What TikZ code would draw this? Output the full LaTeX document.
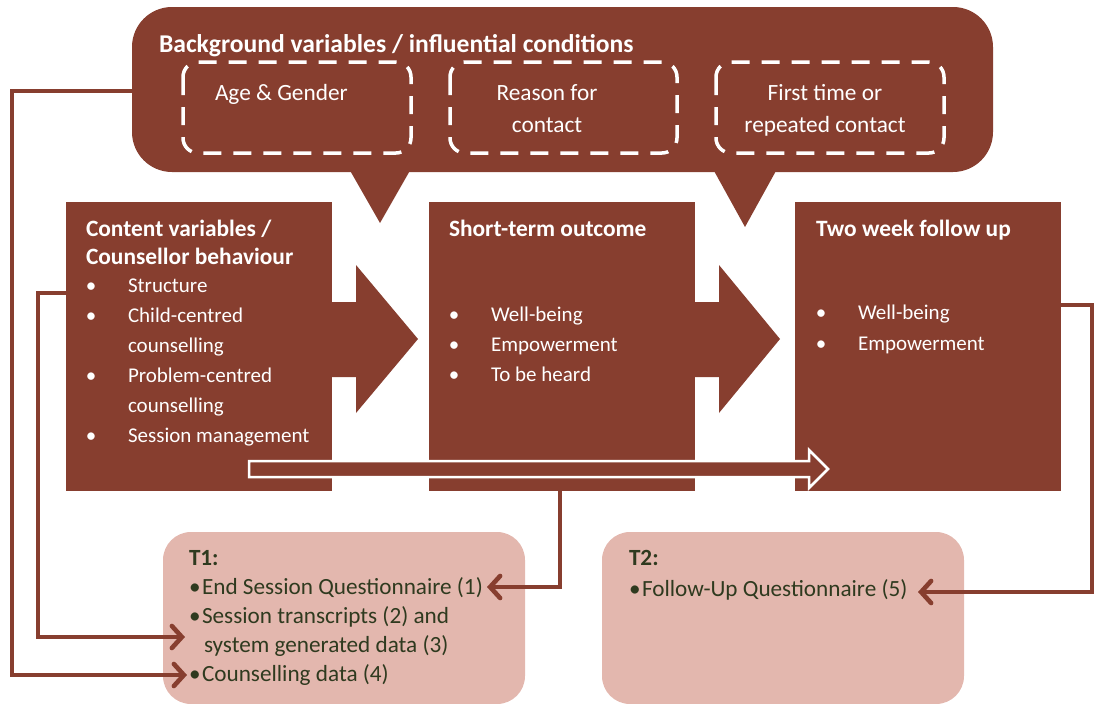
\documentclass[tikz,border=0pt]{standalone}
\usepackage{fontspec}
\setmainfont{Carlito}
\usetikzlibrary{arrows.meta}
\definecolor{brn}{HTML}{873E2F}
\definecolor{pnk}{HTML}{E3B7AE}
\definecolor{dtxt}{HTML}{2F3A1F}
\begin{document}
\begin{tikzpicture}[x=1pt,y=-1pt,
  every node/.style={inner sep=0pt, outer sep=0pt},
  wt/.style={text=white, font=\fontsize{21}{25}\selectfont, anchor=base west},
  wtb/.style={text=white, font=\fontsize{23.4}{27}\selectfont\bfseries, anchor=base west},
  wtt/.style={text=white, font=\fontsize{25.6}{29}\selectfont\bfseries, anchor=base west},
  wbul/.style={text=white, font=\fontsize{21}{25}\selectfont, anchor=base},
  wtc/.style={text=white, font=\fontsize{23.3}{27}\selectfont, anchor=base},
  wtl/.style={text=white, font=\fontsize{23.3}{27}\selectfont, anchor=base west},
  bt/.style={text=dtxt, font=\fontsize{23.2}{27}\selectfont, anchor=base west},
  btb/.style={text=dtxt, font=\fontsize{23.2}{27}\selectfont\bfseries, anchor=base west},
  mainbox/.style={fill=brn, minimum width=266pt, minimum height=289pt},
  tbox/.style={fill=pnk, rounded corners=28pt, minimum width=362pt, minimum height=172pt},
  dbox/.style={draw=white, line width=3.5pt, dash pattern=on 18pt off 12pt, rounded corners=15pt},
  conn/.style={draw=brn, line width=4.6pt, line join=miter,
    -{Straight Barb[length=10pt,width=22pt,line cap=round]}},
]
\useasboundingbox (0,0) rectangle (1096,704);

% background callout
\node[fill=brn, rounded corners=40pt, minimum width=861pt, minimum height=165pt] (bg) at (562.5,89.5) {};
\fill[brn] (344,160) -- (416,160) -- (380,223) -- cycle;
\fill[brn] (708,160) -- (782,160) -- (745,227) -- cycle;
\node[wtt] (bgt) at (159,52) {Background variables / influential conditions};
\draw[dbox] (183,62) rectangle (411,153);
\draw[dbox] (450,62) rectangle (677,153);
\draw[dbox] (716,62) rectangle (944,153);
\node[wtl] (ag) at (215,100) {Age \& Gender};
\node[wtc] (rf1) at (547,100) {Reason for};
\node[wtc] (rf2) at (547,132) {contact};
\node[wtc] (ft1) at (825,100) {First time or};
\node[wtc] (ft2) at (825,132) {repeated contact};

% main boxes
\node[mainbox] (cv) at (199,346.5) {};
\node[mainbox] (st) at (562,346.5) {};
\node[mainbox] (tw) at (928,346.5) {};

% block arrows
\fill[brn] (330,302) -- (356,302) -- (356,265) -- (418,339) -- (356,413) -- (356,377) -- (330,377) -- cycle;
\fill[brn] (693,302) -- (719,302) -- (719,265) -- (780,339) -- (719,413) -- (719,377) -- (693,377) -- cycle;

% hollow arrow
\draw[white, line width=2.5pt, fill=brn, line join=miter]
  (249,461) -- (809,461) -- (809,450) -- (828,469) -- (809,488) -- (809,477) -- (249,477) -- cycle;

% content box text
\node[wtb] (cvt1) at (86,236) {Content variables /};
\node[wtb] (cvt2) at (86,264) {Counsellor behaviour};
\node[wbul] (cb1) at (91,292) {•};
\node[wt] (ci1) at (128,292) {Structure};
\node[wbul] (cb2) at (91,322) {•};
\node[wt] (ci2) at (128,322) {Child-centred};
\node[wt] (ci2b) at (128,352) {counselling};
\node[wbul] (cb3) at (91,382) {•};
\node[wt] (ci3) at (128,382) {Problem-centred};
\node[wt] (ci3b) at (128,412) {counselling};
\node[wbul] (cb4) at (91,442) {•};
\node[wt] (ci4) at (128,442) {Session management};

% short-term text
\node[wtb] (stt) at (449,236) {Short-term outcome};
\node[wbul] (sb1) at (454,321) {•};
\node[wt] (si1) at (491,321) {Well-being};
\node[wbul] (sb2) at (454,351) {•};
\node[wt] (si2) at (491,351) {Empowerment};
\node[wbul] (sb3) at (454,381) {•};
\node[wt] (si3) at (491,381) {To be heard};

% two week text
\node[wtb] (twt) at (816,236) {Two week follow up};
\node[wbul] (tb1) at (821,319) {•};
\node[wt] (ti1) at (858,319) {Well-being};
\node[wbul] (tb2) at (821,350) {•};
\node[wt] (ti2) at (858,350) {Empowerment};

% bottom boxes
\node[tbox] (t1) at (344,618) {};
\node[tbox] (t2) at (783,618) {};
\node[btb] (t1t) at (189,565) {T1:};
\node[bt] (q1) at (189,594) {•\hspace{1.5pt}End Session Questionnaire (1)};
\node[bt] (q2) at (189,623) {•\hspace{1.5pt}Session transcripts (2) and};
\node[bt] (q2b) at (204,652) {system generated data (3)};
\node[bt] (q3) at (189,681) {•\hspace{1.5pt}Counselling data (4)};
\node[btb] (t2t) at (629,565) {T2:};
\node[bt] (fq) at (629,596) {•\hspace{1.5pt}Follow-Up Questionnaire (5)};

% connectors
\coordinate (a1) at (487,587);
\coordinate (a2) at (185,637);
\coordinate (a3) at (187,675);
\coordinate (a4) at (918,592);
\coordinate (k1) at (38,293);
\coordinate (k2) at (12,91);
\coordinate (k3) at (1092,305);
\draw[conn] (st.south -| 560,0) |- (a1);
\draw[conn] (cv.west |- k1) -- (k1) |- (a2);
\draw[conn] (bg.west |- k2) -- (k2) |- (a3);
\draw[conn] (tw.east |- k3) -- (k3) |- (a4);
\end{tikzpicture}
\end{document}
